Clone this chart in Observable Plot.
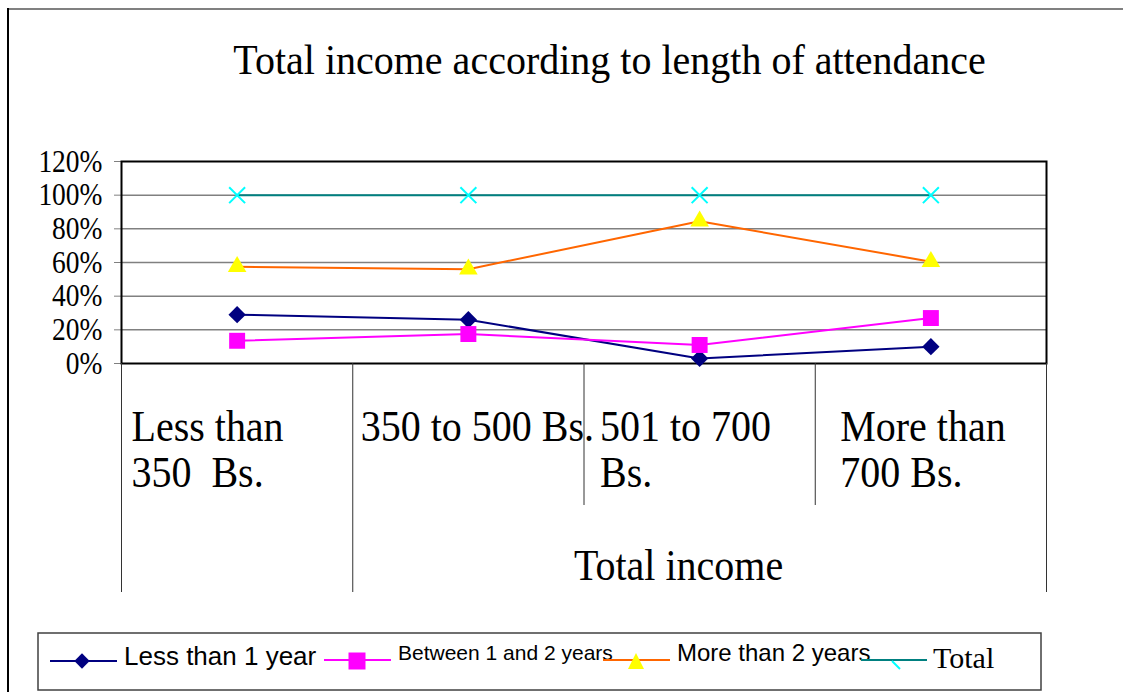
<!DOCTYPE html>
<html>
<head>
<meta charset="utf-8">
<script src="https://cdn.jsdelivr.net/npm/d3@7"></script>
<script src="https://cdn.jsdelivr.net/npm/@observablehq/plot@0.6"></script>
<style>
  body { margin: 0; background: #fff; }
  #fig { position: relative; width: 1123px; height: 692px; overflow: hidden; background: #fff; }
  #edge-top { position: absolute; left: 7px; top: 8px; width: 1116px; height: 0; border-top: 2px solid #808080; }
  #edge-left { position: absolute; left: 7px; top: 8px; width: 0; height: 684px; border-left: 2px solid #000; }
  #title {
    position: absolute; left: 0; top: 39px; width: 1219px; text-align: center;
    font-family: "Liberation Serif", "Times New Roman", serif; font-size: 40px; line-height: 41px;
    transform: scaleY(1.08); transform-origin: center; white-space: nowrap;
  }
  #plot { position: absolute; left: 0; top: 100px; }
  #legend { position: absolute; left: 0; top: 620px; }
</style>
</head>
<body>
<div id="fig">
  <div id="edge-top"></div>
  <div id="edge-left"></div>
  <div id="title">Total income according to length of attendance</div>
  <div id="plot"></div>
  <div id="legend"></div>
</div>
<script>
// Income brackets (x categories)
const categories = ["Less than\n350  Bs.", "350 to 500 Bs.", "501 to 700\nBs.", "More than\n700 Bs."];

// Share of each attendance group per income bracket (%)
const lessThan1Year = [29, 26, 3, 10];
const between1And2Years = [13.5, 17.5, 11, 27];
const moreThan2Years = [57.5, 56, 84.5, 60.5];
const total = [100, 100, 100, 100];

const seriesNames = ["Less than 1 year", "Between 1 and 2 years", "More than 2 years", "Total"];
const yTicks = [0, 20, 40, 60, 80, 100, 120];
const xTitle = "Total income";

const series = [
  {name: seriesNames[0], values: lessThan1Year, line: "#000080", fill: "#000080", symbol: "diamond2", r: 7.8},
  {name: seriesNames[1], values: between1And2Years, line: "#ff00ff", fill: "#ff00ff", symbol: "square", r: 9},
  {name: seriesNames[2], values: moreThan2Years, line: "#ff6600", fill: "#ffff00", symbol: "triangle", r: 6.9},
  {name: seriesNames[3], values: total, line: "#008080", fill: "none", stroke: "#00ffff", symbol: "times", r: 7.3}
];

const W = 1123, H = 500;
const mTop = 61, mBottom = 237, mLeft = 121, mRight = 77;
const plotH = H - mTop - mBottom;
const serif = "'Liberation Serif', 'Times New Roman', serif";

// band edges of the category axis; the outer ones and the first inner one run deeper
const edges = d3.range(categories.length + 1).map(i => i - 0.5);
const deepEdges = edges.filter((e, i) => i <= 1 || i === categories.length);
const shallowEdges = edges.filter((e, i) => !(i <= 1 || i === categories.length));
const labelDx = [10, 8, 16, 25];

const seriesMarks = series.flatMap(s => {
  const rows = s.values.map((v, i) => ({i, v}));
  return [
    Plot.line(rows, {x: "i", y: "v", stroke: s.line, strokeWidth: 2}),
    Plot.dot(rows, {
      x: "i", y: "v", symbol: s.symbol, r: s.r,
      fill: s.fill, stroke: s.stroke ?? "none", strokeWidth: s.stroke ? 2 : 0
    })
  ];
});

const chart = Plot.plot({
  width: W, height: H,
  marginTop: mTop, marginBottom: mBottom, marginLeft: mLeft, marginRight: mRight,
  x: {domain: [-0.5, categories.length - 0.5], axis: null},
  y: {domain: [0, 120], axis: null},
  style: {background: "transparent", fontFamily: serif, color: "black", overflow: "visible"},
  marks: [
    Plot.gridY(yTicks.slice(1, -1), {stroke: "#808080", strokeOpacity: 1, strokeWidth: 1.5}),
    Plot.axisY({
      ticks: yTicks, tickFormat: d => d + "%", tickSize: 7, tickPadding: 12,
      fontSize: 27.5, stroke: "#808080", fill: "black", label: null
    }),
    Plot.frame({stroke: "black", strokeWidth: 2}),
    Plot.ruleX(deepEdges, {x: d => d, insetTop: plotH, insetBottom: -229, stroke: "#333", strokeWidth: 1}),
    Plot.ruleX(shallowEdges, {x: d => d, insetTop: plotH, insetBottom: -142, stroke: "#333", strokeWidth: 1}),
    ...categories.map((c, i) => Plot.text([c], {
      x: () => i - 0.5, text: d => d, frameAnchor: "bottom",
      textAnchor: "start", lineAnchor: "top", lineHeight: 1.03,
      dx: labelDx[i], dy: 44, fontSize: 40, fill: "black"
    })),
    Plot.text([xTitle], {
      frameAnchor: "bottom", text: d => d, lineAnchor: "middle",
      dx: 94.5, dy: 202, fontSize: 40, fill: "black"
    }),
    ...seriesMarks
  ]
});

// serif lettering of the axes is set a little taller than wide
chart.querySelectorAll('g[aria-label="y-axis tick label"] text').forEach(t => {
  t.setAttribute("transform", (t.getAttribute("transform") || "") + " scale(1,1.17)");
});
chart.querySelectorAll('g[aria-label="text"] text').forEach(t => {
  t.setAttribute("transform", (t.getAttribute("transform") || "") + " scale(1,1.13)");
});
document.getElementById("plot").append(chart);

// Legend
const lg = d3.select("#legend").append("svg").attr("width", W).attr("height", 72);
lg.append("rect").attr("x", 38).attr("y", 13).attr("width", 1003).attr("height", 57)
  .attr("fill", "white").attr("stroke", "#404040").attr("stroke-width", 1.5);

const sans = "'Liberation Sans', Arial, sans-serif";
const items = [
  {x0: 50, x1: 117, ly: 41, mx: 82, tx: 124, ty: 45, font: sans, size: 26},
  {x0: 324, x1: 391, ly: 40, mx: 357, tx: 398, ty: 40, font: sans, size: 21},
  {x0: 603, x1: 670, ly: 40, mx: 636, tx: 677, ty: 41, font: sans, size: 24},
  {x0: 861, x1: 927, ly: 40, mx: 896, tx: 933, ty: 48, font: serif, size: 30}
];
items.forEach((it, k) => {
  const s = series[k];
  lg.append("line").attr("x1", it.x0).attr("x2", it.x1).attr("y1", it.ly).attr("y2", it.ly)
    .attr("stroke", s.line).attr("stroke-width", 2);
  if (k === 0) {
    lg.append("path").attr("d", d3.symbol(d3.symbolDiamond2, 150)()).attr("fill", s.fill)
      .attr("transform", `translate(${it.mx},${it.ly})`);
  } else if (k === 1) {
    lg.append("path").attr("d", d3.symbol(d3.symbolSquare, 289)()).attr("fill", s.fill)
      .attr("transform", `translate(${it.mx},${it.ly + 1})`);
  } else if (k === 2) {
    lg.append("path").attr("d", "M0,-16L-8,0L8,0Z").attr("fill", s.fill)
      .attr("transform", `translate(${it.mx},${it.ly + 9})`);
  } else {
    lg.append("line").attr("x1", it.mx - 4).attr("y1", it.ly + 1).attr("x2", it.mx + 4).attr("y2", it.ly + 9)
      .attr("stroke", s.stroke).attr("stroke-width", 2);
  }
  lg.append("text").attr("x", it.tx).attr("y", it.ty).attr("font-family", it.font)
    .attr("font-size", it.size).attr("fill", "black").text(s.name);
});
</script>
</body>
</html>
